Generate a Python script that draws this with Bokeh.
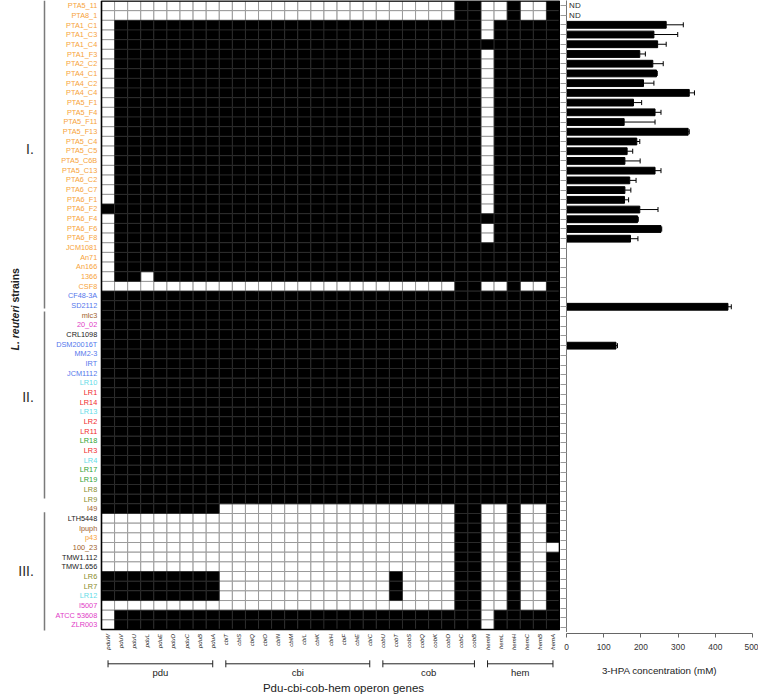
import numpy as np
from bokeh.plotting import figure
from bokeh.models import Range1d, ColumnDataSource, FixedTicker, Whisker, TeeHead
from bokeh.layouts import row, column
from bokeh.core.properties import value
from bokeh.embed import file_html
from bokeh.resources import INLINE

# ---------------- data ----------------
strains = [
    "PTA5_11", "PTA8_1", "PTA1_C1", "PTA1_C3", "PTA1_C4", "PTA1_F3", "PTA2_C2", "PTA4_C1",
    "PTA4_C2", "PTA4_C4", "PTA5_F1", "PTA5_F4", "PTA5_F11", "PTA5_F13", "PTA5_C4", "PTA5_C5",
    "PTA5_C6B", "PTA5_C13", "PTA6_C2", "PTA6_C7", "PTA6_F1", "PTA6_F2", "PTA6_F4", "PTA6_F6",
    "PTA6_F8", "JCM1081", "An71", "An166", "1366", "CSF8",
    "CF48-3A", "SD2112", "mlc3", "20_02", "CRL1098", "DSM20016T", "MM2-3", "IRT", "JCM1112",
    "LR10", "LR1", "LR14", "LR13", "LR2", "LR11", "LR18", "LR3", "LR4", "LR17", "LR19", "LR8", "LR9",
    "I49", "LTH5448", "lpuph", "p43", "100_23", "TMW1.112", "TMW1.656", "LR6", "LR7", "LR12",
    "I5007", "ATCC 53608", "ZLR003",
]

strain_lineage = (
    ["or"] * 30 +
    ["bl", "bl", "br", "mg", "bk", "bl", "bl", "bl", "bl",
     "cy", "rd", "rd", "cy", "rd", "rd", "gr", "rd", "cy", "gr", "gr", "ol", "ol",
     "br", "bk", "br", "or", "br", "bk", "bk", "ol", "ol", "cy", "mg", "mg", "mg"]
)

genes = ["pduW", "pduV", "pduU", "pduL", "pduE", "pduD", "pduC", "pduB", "pduA",
         "cbiT", "cbiS", "cbiQ", "cbiO", "cbiN", "cbiM", "cbiL", "cbiK", "cbiH", "cbiF", "cbiE", "cbiC",
         "cobU", "cobT", "cobS", "cobQ", "cobK", "cobD", "cobC", "cobB",
         "hemN", "hemL", "hemH", "hemC", "hemB", "hemA"]

gene_groups = [("pdu", "pduW", "pduA"), ("cbi", "cbiT", "cbiC"),
               ("cob", "cobU", "cobB"), ("hem", "hemN", "hemA")]

clusters = ["I.", "II.", "III."]

# gene presence (1 = present / black), groups: pdu | cbi | cob | hem
presence_rows = [
    "000000000 000000000000 00000011 001001",  # PTA5_11
    "000000000 000000000000 00000011 001001",  # PTA8_1
    "011111111 111111111111 11111111 011111",  # PTA1_C1
    "011111111 111111111111 11111111 011111",  # PTA1_C3
    "011111111 111111111111 11111111 111111",  # PTA1_C4
    "011111111 111111111111 11111111 011111",  # PTA1_F3
    "011111111 111111111111 11111111 011111",  # PTA2_C2
    "011111111 111111111111 11111111 011111",  # PTA4_C1
    "011111111 111111111111 11111111 011111",  # PTA4_C2
    "011111111 111111111111 11111111 011111",  # PTA4_C4
    "011111111 111111111111 11111111 011111",  # PTA5_F1
    "011111111 111111111111 11111111 011111",  # PTA5_F4
    "011111111 111111111111 11111111 011111",  # PTA5_F11
    "011111111 111111111111 11111111 011111",  # PTA5_F13
    "011111111 111111111111 11111111 011111",  # PTA5_C4
    "011111111 111111111111 11111111 011111",  # PTA5_C5
    "011111111 111111111111 11111111 011111",  # PTA5_C6B
    "011111111 111111111111 11111111 011111",  # PTA5_C13
    "011111111 111111111111 11111111 011111",  # PTA6_C2
    "011111111 111111111111 11111111 011111",  # PTA6_C7
    "011111111 111111111111 11111111 011111",  # PTA6_F1
    "111111111 111111111111 11111111 011111",  # PTA6_F2
    "011111111 111111111111 11111111 111111",  # PTA6_F4
    "011111111 111111111111 11111111 011111",  # PTA6_F6
    "011111111 111111111111 11111111 011111",  # PTA6_F8
    "011111111 111111111111 11111111 111111",  # JCM1081
    "011111111 111111111111 11111111 111111",  # An71
    "011111111 111111111111 11111111 111111",  # An166
    "011011111 111111111111 11111111 111111",  # 1366
    "000000000 000000000000 00000011 001001",  # CSF8
    "111111111 111111111111 11111111 111111",  # CF48-3A
    "111111111 111111111111 11111111 111111",  # SD2112
    "111111111 111111111111 11111111 111111",  # mlc3
    "111111111 111111111111 11111111 111111",  # 20_02
    "111111111 111111111111 11111111 111111",  # CRL1098
    "111111111 111111111111 11111111 111111",  # DSM20016T
    "111111111 111111111111 11111111 111111",  # MM2-3
    "111111111 111111111111 11111111 111111",  # IRT
    "111111111 111111111111 11111111 111111",  # JCM1112
    "111111111 111111111111 11111111 111111",  # LR10
    "111111111 111111111111 11111111 111111",  # LR1
    "111111111 111111111111 11111111 111111",  # LR14
    "111111111 111111111111 11111111 111111",  # LR13
    "111111111 111111111111 11111111 111111",  # LR2
    "111111111 111111111111 11111111 111111",  # LR11
    "111111111 111111111111 11111111 111111",  # LR18
    "111111111 111111111111 11111111 111111",  # LR3
    "111111111 111111111111 11111111 111111",  # LR4
    "111111111 111111111111 11111111 111111",  # LR17
    "111111111 111111111111 11111111 111111",  # LR19
    "111111111 111111111111 11111111 111111",  # LR8
    "111111111 111111111111 11111111 111111",  # LR9
    "111111111 000000000000 00000011 001001",  # I49
    "000000000 000000000000 00000011 001001",  # LTH5448
    "000000000 000000000000 00000011 001001",  # lpuph
    "000000000 000000000000 00000011 001001",  # p43
    "000000000 000000000000 00000011 001000",  # 100_23
    "000000000 000000000000 00000011 001001",  # TMW1.112
    "000000000 000000000000 00000011 001001",  # TMW1.656
    "111111111 000000000000 01000011 001001",  # LR6
    "111111111 000000000000 01000011 001001",  # LR7
    "111111111 000000000000 01000011 001001",  # LR12
    "000000000 000000000000 00000011 001001",  # I5007
    "011111111 111111111111 11111111 011111",  # ATCC 53608
    "011111111 111111111111 11111111 011111",  # ZLR003
]

hpa_strains = ["PTA1_C1", "PTA1_C3", "PTA1_C4", "PTA1_F3", "PTA2_C2", "PTA4_C1", "PTA4_C2",
               "PTA4_C4", "PTA5_F1", "PTA5_F4", "PTA5_F11", "PTA5_F13", "PTA5_C4", "PTA5_C5",
               "PTA5_C6B", "PTA5_C13", "PTA6_C2", "PTA6_C7", "PTA6_F1", "PTA6_F2", "PTA6_F4",
               "PTA6_F6", "PTA6_F8", "SD2112", "DSM20016T"]
hpa_mean = [268, 235, 245, 197, 232, 242, 207, 330, 180, 238, 155, 327, 189, 163, 157, 238,
            170, 157, 156, 197, 191, 254, 172, 434, 133]
hpa_err = [46, 64, 23, 15, 28, 2, 28, 14, 22, 16, 83, 3, 8, 15, 41, 16, 17, 16, 11, 49, 2, 2,
           20, 9, 4]
nd_strains = ["PTA5_11", "PTA8_1"]
conc_ticks = [0, 100, 200, 300, 400, 500]

# ---------------- style / layout ----------------
lineage_colors = {"or": "#F7A33A", "bl": "#5477EC", "br": "#A0612B", "mg": "#E03CC6",
                  "bk": "#1a1a1a", "cy": "#62DCE8", "rd": "#F02C2C", "gr": "#2FA22F",
                  "ol": "#8A8A2A"}
FNAME = "Liberation Sans"
FONT = value(FNAME)
TXT = "#222222"
DARK = "#2a2a2a"

H = 694            # total height
FRAME_H = 632      # bar chart frame height
M_W = 560          # matrix figure width
B_W = 198          # bar figure width
CW, RH = 13.086, 9.67   # cell width / row height in px
MX0, MY0 = 101.0, 0.5   # matrix left / top in px


def dx(px):
    return (px - MX0) / CW - 0.5


def dy(px):
    return (px - MY0) / RH - 0.5


n_rows, n_cols = len(strains), len(genes)
presence = [s.replace(" ", "") for s in presence_rows]

pm = figure(width=M_W, height=H, x_range=Range1d(dx(0), dx(M_W)),
            y_range=Range1d(dy(H), dy(0)), toolbar_location=None, output_backend="svg",
            x_axis_location=None, y_axis_location=None, min_border=0)
pm.grid.visible = False
pm.outline_line_color = None

# cells
wx, wy, bx, by = [], [], [], []
for r, s in enumerate(presence):
    for c, ch in enumerate(s):
        if ch == "1":
            bx.append(c); by.append(r)
        else:
            wx.append(c); wy.append(r)
pm.rect(x=wx, y=wy, width=1, height=1, fill_color="white", line_color="#9a9a9a", line_width=1)
pm.rect(x=bx, y=by, width=1, height=1, fill_color="black", line_color="#2e2e2e", line_width=0.7)
pm.rect(x=[(n_cols - 1) / 2], y=[(n_rows - 1) / 2], width=n_cols, height=n_rows,
        fill_color=None, line_color="black", line_width=1.6)

# strain labels
lab_src = ColumnDataSource(dict(x=[dx(96.7)] * n_rows, y=list(range(n_rows)),
                                t=strains, c=[lineage_colors[g] for g in strain_lineage]))
pm.text(x="x", y="y", text="t", text_color="c", source=lab_src, text_align="right",
        text_baseline="middle", text_font=FONT, text_font_size="7.3px")

# cluster lines and numerals
cl_span = {"I.": (0, 308), "II.": (311, 498), "III.": (511.7, 630)}
num_y = {"I.": 148, "II.": 396.7, "III.": 570}
for name in clusters:
    a, b = cl_span[name]
    pm.segment(x0=[dx(44)], y0=[dy(a)], x1=[dx(44)], y1=[dy(b)],
               line_color="#7a7a7a", line_width=1.5)
    pm.text(x=[dx(33.3)], y=[dy(num_y[name])], text=[name], text_align="right",
            text_baseline="middle", text_font=FONT, text_font_size="14px",
            text_color=value(DARK))

# y title (mixed italic / upright)
pm.text(x=[dx(14)], y=[dy(350)], text=["L. reuteri"], angle=np.pi / 2, text_align="left",
        text_baseline="middle", text_font=FONT, text_font_size="10.5px",
        text_font_style="bold italic", text_color=TXT)
pm.text(x=[dx(14)], y=[dy(302)], text=["strains"], angle=np.pi / 2, text_align="left",
        text_baseline="middle", text_font=FONT, text_font_size="10.5px",
        text_font_style="bold", text_color=TXT)

# gene labels
pm.text(x=list(range(n_cols)), y=[dy(633.5)] * n_cols, text=genes, angle=np.pi / 2,
        text_align="right", text_baseline="middle", text_font=FONT, text_font_size="6px",
        text_font_style="italic", text_color=TXT)

# group brackets
g0 = [genes.index(a) for _, a, _ in gene_groups]
g1 = [genes.index(b) for _, _, b in gene_groups]
gy = dy(663.3)
cap = 3.5 / RH
pm.segment(x0=g0, y0=[gy] * 4, x1=g1, y1=[gy] * 4, line_color=TXT, line_width=1)
pm.segment(x0=g0 + g1, y0=[gy - cap] * 8, x1=g0 + g1, y1=[gy + cap] * 8,
           line_color=TXT, line_width=1)
pm.text(x=[(a + b) / 2 for a, b in zip(g0, g1)], y=[dy(672)] * 4,
        text=[g for g, _, _ in gene_groups], text_align="center", text_baseline="middle",
        text_font=FONT, text_font_size="9.5px", text_color=TXT)

pm.text(x=[dx(343)], y=[dy(687.5)], text=["Pdu-cbi-cob-hem operon genes"], text_align="center",
        text_baseline="middle", text_font=FONT, text_font_size="11.5px", text_color=TXT)

# ---------------- bar chart ----------------
pb = figure(width=B_W, height=FRAME_H, x_range=Range1d(0, 500),
            y_range=Range1d(n_rows - 0.5, -0.5), toolbar_location=None, output_backend="svg",
            x_axis_location=None, min_border_left=6, min_border_right=6, min_border_top=0,
            min_border_bottom=0)
pb.grid.visible = False
pb.outline_line_color = None

bsrc = ColumnDataSource(dict(y=[strains.index(s) for s in hpa_strains], m=hpa_mean,
                             hi=[m + e for m, e in zip(hpa_mean, hpa_err)]))
pb.hbar(y="y", left=0, right="m", height=0.7, source=bsrc, fill_color="black",
        line_color="black")
pb.add_layout(Whisker(source=bsrc, base="y", lower="m", upper="hi", dimension="width",
                      line_color="black", line_width=1, lower_head=None,
                      upper_head=TeeHead(size=5, line_color="black", line_width=1)))

pb.text(x=[7] * len(nd_strains), y=[strains.index(s) for s in nd_strains],
        text=["ND"] * len(nd_strains), text_align="left", text_baseline="middle",
        text_font=FONT, text_font_size="8px", text_color=value(DARK))

pb.yaxis.ticker = FixedTicker(ticks=list(range(n_rows)))
pb.yaxis.major_label_overrides = {i: "" for i in range(n_rows)}
pb.yaxis.major_label_text_color = None
pb.yaxis.major_label_text_font_size = "1px"
pb.yaxis.major_label_standoff = 0
pb.yaxis.major_tick_out = 6
pb.yaxis.major_tick_in = 0
pb.yaxis.minor_tick_line_color = None
pb.yaxis.axis_line_color = "#777777"
pb.yaxis.major_tick_line_color = "#9a9a9a"

# x axis of the bar chart (own strip below, sharing the x range)
pa = figure(width=B_W, height=H - FRAME_H, x_range=pb.x_range, y_range=Range1d(0, 1),
            toolbar_location=None, output_backend="svg", y_axis_location=None,
            min_border_left=6, min_border_right=6, min_border_top=0,
            min_border_bottom=H - FRAME_H - 1)
pa.grid.visible = False
pa.outline_line_color = None
pa.xaxis.ticker = FixedTicker(ticks=conc_ticks)
pa.xaxis.axis_label = "3-HPA concentration (mM)"
pa.xaxis.axis_label_text_font = FNAME
pa.xaxis.axis_label_text_font_style = "normal"
pa.xaxis.axis_label_text_font_size = "9.8px"
pa.xaxis.axis_label_text_color = TXT
pa.xaxis.axis_label_standoff = 12
pa.xaxis.major_label_text_font = FNAME
pa.xaxis.major_label_text_font_size = "8.4px"
pa.xaxis.major_label_text_color = "#333333"
pa.xaxis.major_label_standoff = 6
pa.xaxis.major_tick_out = 4
pa.xaxis.major_tick_in = 0
pa.xaxis.minor_tick_line_color = None
pa.xaxis.axis_line_color = "#666666"
pa.xaxis.major_tick_line_color = "#666666"

layout = row(pm, column(pb, pa))
open("out.html", "w").write(file_html(layout, INLINE))
